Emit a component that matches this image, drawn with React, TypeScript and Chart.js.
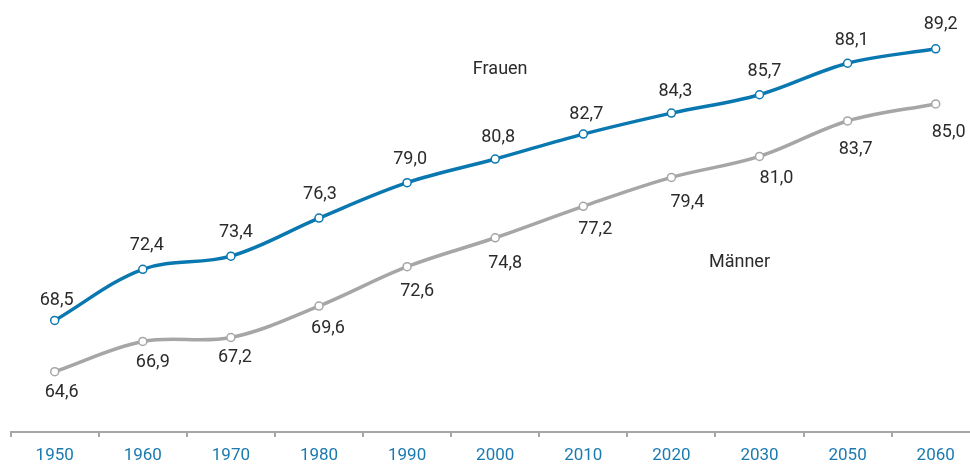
import React, { useEffect, useRef } from "react";
import { Chart, registerables } from "chart.js";

Chart.register(...registerables);

// Lebenserwartung bei Geburt in Jahren
const years = ["1950", "1960", "1970", "1980", "1990", "2000", "2010", "2020", "2030", "2050", "2060"];
const frauen = [68.5, 72.4, 73.4, 76.3, 79.0, 80.8, 82.7, 84.3, 85.7, 88.1, 89.2];
const maenner = [64.6, 66.9, 67.2, 69.6, 72.6, 74.8, 77.2, 79.4, 81.0, 83.7, 85.0];

// label placement relative to each point (px)
const frauenLabelOffsets: [number, number][] = [
  [2, -22], [4, -26], [5, -26], [1, -26], [3, -25], [3, -24],
  [3, -22], [4, -24], [5, -25], [4, -25], [5, -26],
];
const maennerLabelOffsets: [number, number][] = [
  [7, 19], [10, 19], [4, 18], [9, 20], [10, 23], [10, 24],
  [12, 21], [16, 23], [17, 20], [8, 27], [13, 27],
];

const BLUE = "#0a78b0";
const GREY = "#a6a6a6";
const TEXT = "#2b2b2b";
const FONT = "Roboto, 'Noto Sans', sans-serif";

const fmt = (v: number) => v.toFixed(1).replace(".", ",");

const valueLabels = {
  id: "valueLabels",
  afterDatasetsDraw(chart: any) {
    const { ctx } = chart;
    const offsets = [frauenLabelOffsets, maennerLabelOffsets];
    ctx.save();
    ctx.font = `18px ${FONT}`;
    ctx.fillStyle = TEXT;
    ctx.textAlign = "center";
    ctx.textBaseline = "alphabetic";
    chart.data.datasets.forEach((ds: any, di: number) => {
      const meta = chart.getDatasetMeta(di);
      meta.data.forEach((pt: any, i: number) => {
        const [dx, dy] = offsets[di][i];
        ctx.fillText(fmt(ds.data[i]), pt.x + dx, pt.y + dy + 6.5);
      });
    });

    // series names
    const xs = chart.scales.x;
    const ys = chart.scales.y;
    ctx.fillText("Frauen", xs.getPixelForValue(5) + 5, ys.getPixelForValue(87.3));
    ctx.fillText("Männer", xs.getPixelForValue(8) - 20, ys.getPixelForValue(72.6));
    ctx.restore();
  },
};

export default function App() {
  const canvasRef = useRef<HTMLCanvasElement | null>(null);

  useEffect(() => {
    if (!canvasRef.current) return;
    const chart = new Chart(canvasRef.current, {
      type: "line",
      data: {
        labels: years,
        datasets: [
          {
            label: "Frauen",
            data: frauen,
            borderColor: BLUE,
            borderWidth: 3.5,
            tension: 0.35,
            pointRadius: 4,
            pointBorderWidth: 1.5,
            pointBackgroundColor: "#ffffff",
            pointBorderColor: BLUE,
          },
          {
            label: "Männer",
            data: maenner,
            borderColor: GREY,
            borderWidth: 3.5,
            tension: 0.35,
            pointRadius: 4,
            pointBorderWidth: 1.5,
            pointBackgroundColor: "#ffffff",
            pointBorderColor: GREY,
          },
        ],
      },
      options: {
        responsive: false,
        animation: false,
        devicePixelRatio: 1,
        layout: { padding: { left: 10.65, right: 10.25, top: 3.3, bottom: 0 } },
        plugins: {
          legend: { display: false },
          tooltip: { enabled: false },
        },
        scales: {
          x: {
            offset: true,
            grid: {
              offset: true,
              drawOnChartArea: false,
              drawTicks: true,
              tickLength: 5,
              color: GREY,
              lineWidth: 2,
            },
            border: { display: true, color: GREY, width: 2 },
            ticks: {
              color: "#1a7ab0",
              font: { family: FONT, size: 17 },
              padding: 9,
              maxRotation: 0,
              autoSkip: false,
            },
            afterFit(scale: any) {
              scale.height = 35;
            },
          },
          y: {
            display: false,
            min: 60,
            max: 92.5,
          },
        },
      },
      plugins: [valueLabels],
    });
    return () => chart.destroy();
  }, []);

  return (
    <div
      style={{
        position: "absolute",
        left: 0,
        top: 0,
        width: 970,
        height: 467,
        overflow: "hidden",
        background: "#ffffff",
      }}
    >
      <canvas ref={canvasRef} width={990} height={467} style={{ width: 990, height: 467, display: "block" }} />
    </div>
  );
}
